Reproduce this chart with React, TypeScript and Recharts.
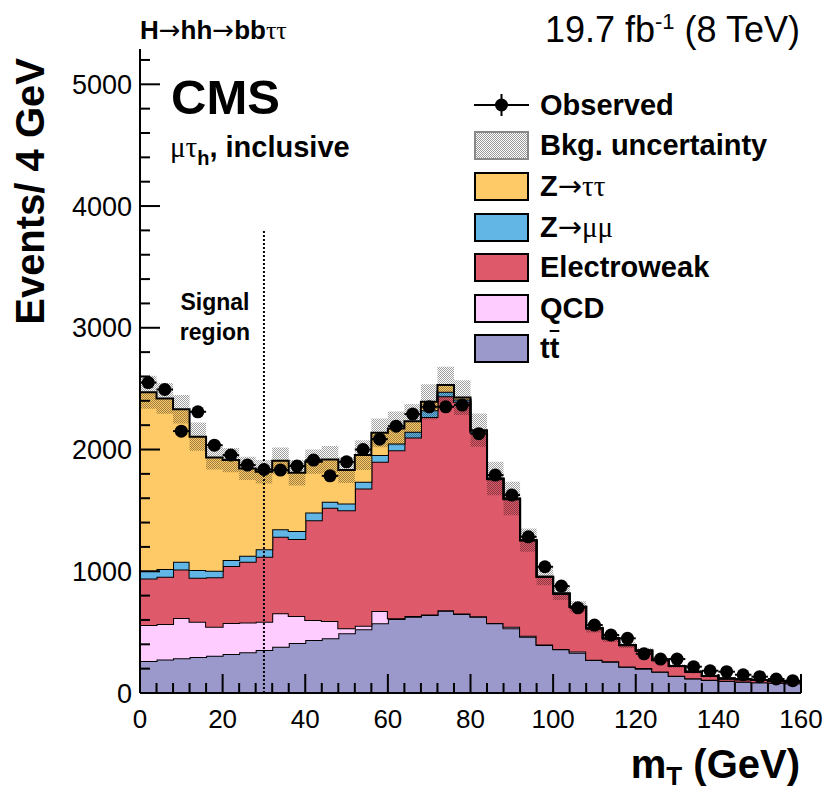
import React from "react";
import { ComposedChart, Area, Scatter, XAxis, YAxis, ErrorBar, ReferenceLine, Legend } from "recharts";

// ---------- data ----------
const binLow = [0, 4, 8, 12, 16, 20, 24, 28, 32, 36, 40, 44, 48, 52, 56, 60, 64, 68, 72, 76,
  80, 84, 88, 92, 96, 100, 104, 108, 112, 116, 120, 124, 128, 132, 136, 140, 144, 148, 152, 156];

const ttbar = [263, 275, 285, 295, 305, 320, 335, 353, 380, 410, 435, 449, 490, 523, 572, 607, 627, 640, 676, 649,
  627, 572, 531, 462, 394, 359, 331, 271, 257, 216, 200, 175, 140, 120, 107, 99, 93, 88, 85, 80];
const qcd = [295, 291, 331, 290, 240, 254, 245, 232, 276, 222, 164, 142, 41, 30, 101, 6, 5, 5, 4, 4,
  3, 3, 14, 8, 4, 3, 9, 3, 3, 2, 5, 1, 1, 1, 1, 1, 1, 1, 1, 1];
const ewk = [383, 389, 399, 362, 405, 469, 498, 534, 627, 632, 821, 931, 971, 1127, 1226, 1382, 1467, 1623, 1758, 1739,
  1510, 1180, 1047, 782, 554, 454, 367, 256, 188, 175, 143, 94, 81, 54, 32, 20, 18, 18, 13, 12];
const zmm = [61, 63, 63, 63, 54, 49, 49, 61, 63, 66, 63, 49, 55, 55, 55, 55, 47, 55, 36, 19,
  10, 5, 4, 3, 2, 1, 1, 1, 1, 1, 1, 1, 0, 0, 0, 0, 0, 0, 0, 0];
const ztt = [1468, 1402, 1252, 1095, 931, 821, 718, 637, 561, 479, 417, 347, 274, 219, 183, 123, 87, 69, 55, 16,
  9, 2, 2, 1, 1, 1, 1, 0, 0, 0, 1, 0, 0, 0, 0, 0, 0, 0, 0, 0];
const bkgUnc = [135, 126, 117, 116, 100, 100, 95, 96, 110, 104, 100, 110, 105, 123, 118, 140, 140, 145, 150, 143,
  137, 137, 137, 96, 70, 55, 45, 35, 30, 25, 22, 18, 15, 12, 10, 9, 8, 7, 6, 6];
const observed = [2550, 2493, 2151, 2310, 2036, 1954, 1872, 1836, 1831, 1864, 1913, 1784, 1899, 2000, 2085, 2192, 2291, 2351, 2351, 2365,
  2130, 1790, 1626, 1283, 1037, 878, 700, 558, 476, 449, 322, 279, 279, 216, 183, 175, 150, 134, 115, 101];

const xTicks = [0, 4, 8, 12, 16, 20, 24, 28, 32, 36, 40, 44, 48, 52, 56, 60, 64, 68, 72, 76, 80,
  84, 88, 92, 96, 100, 104, 108, 112, 116, 120, 124, 128, 132, 136, 140, 144, 148, 152, 156, 160];
const xLabels = [0, 20, 40, 60, 80, 100, 120, 140, 160];
const yTicks = [0, 200, 400, 600, 800, 1000, 1200, 1400, 1600, 1800, 2000, 2200, 2400, 2600, 2800, 3000,
  3200, 3400, 3600, 3800, 4000, 4200, 4400, 4600, 4800, 5000, 5200];
const yLabels = [0, 1000, 2000, 3000, 4000, 5000];

const X_MAX = 160;
const Y_MAX = 5290;
const SIGNAL_CUT = 30;
const SIGNAL_LINE_TOP = 3800;
const HALF_BIN = 2;

const FONT = "'Liberation Sans', Arial, Helvetica, sans-serif";
const SERIF = "'Liberation Serif', 'Times New Roman', serif";
const ARROW = "'DejaVu Sans', sans-serif";
const COL = { ztt: "#FDCA67", zmm: "#62B6E6", ewk: "#DE5A6A", qcd: "#FFCCFF", tt: "#9B98CC" };

const histData = [...binLow, X_MAX].map((x, i) => {
  const j = Math.min(i, binLow.length - 1);
  const total = ttbar[j] + qcd[j] + ewk[j] + zmm[j] + ztt[j];
  return {
    x,
    ttbar: ttbar[j],
    qcd: qcd[j],
    ewk: ewk[j],
    zmm: zmm[j],
    ztt: ztt[j],
    band: [total - bkgUnc[j], total + bkgUnc[j]],
  };
});

const obsData = binLow.map((x, i) => ({ x: x + HALF_BIN, obs: observed[i], xerr: HALF_BIN }));

// ---------- ticks ----------
const BottomTick = (p: any) => {
  const { x, y, payload } = p;
  const major = xLabels.includes(payload.value);
  return (
    <g>
      <line x1={x} x2={x} y1={y} y2={y - (major ? 19 : 10)} stroke="#000" strokeWidth={2} />
      {major && (
        <text x={x} y={y + 35} textAnchor="middle" fontSize={26} fontFamily={FONT} fill="#000">
          {payload.value}
        </text>
      )}
    </g>
  );
};
const TopTick = (p: any) => {
  const { x, y, payload } = p;
  const major = xLabels.includes(payload.value);
  return <line x1={x} x2={x} y1={y} y2={y + (major ? 19 : 10)} stroke="#000" strokeWidth={2} />;
};
const LeftTick = (p: any) => {
  const { x, y, payload } = p;
  const major = yLabels.includes(payload.value);
  return (
    <g>
      <line x1={x} x2={x + (major ? 20 : 10)} y1={y} y2={y} stroke="#000" strokeWidth={2} />
      {major && (
        <text x={x - 8} y={y + 9.5} textAnchor="end" fontSize={27} fontFamily={FONT} fill="#000">
          {payload.value}
        </text>
      )}
    </g>
  );
};
const RightTick = (p: any) => {
  const { x, y, payload } = p;
  const major = yLabels.includes(payload.value);
  return <line x1={x} x2={x - (major ? 20 : 10)} y1={y} y2={y} stroke="#000" strokeWidth={2} />;
};

const ObsDot = (p: any) => <circle cx={p.cx} cy={p.cy} r={6.5} fill="#000" />;

// ---------- legend ----------
const checker = "repeating-conic-gradient(#999 0% 25%, #fff 0% 50%) 0 0 / 2px 2px";
const legendRows = [
  { key: "obs", label: <span>Observed</span> },
  { key: "unc", label: <span>Bkg. uncertainty</span>, bg: checker, border: "#888" },
  { key: "ztt", label: <span>Z<span style={{ fontFamily: ARROW, fontWeight: "normal" }}>→</span><span style={{ fontFamily: SERIF, fontWeight: "normal" }}>ττ</span></span>, bg: COL.ztt, border: "#000" },
  { key: "zmm", label: <span>Z<span style={{ fontFamily: ARROW, fontWeight: "normal" }}>→</span><span style={{ fontFamily: SERIF, fontWeight: "normal" }}>μμ</span></span>, bg: COL.zmm, border: "#000" },
  { key: "ewk", label: <span>Electroweak</span>, bg: COL.ewk, border: "#000" },
  { key: "qcd", label: <span>QCD</span>, bg: COL.qcd, border: "#000" },
  { key: "tt", label: <span>t<span style={{ textDecoration: "overline" }}>t</span></span>, bg: COL.tt, border: "#000" },
];

const renderLegend = () => (
  <div style={{ fontFamily: FONT, fontWeight: "bold", fontSize: 29, color: "#000" }}>
    {legendRows.map((r) => (
      <div key={r.key} style={{ height: 40.6, display: "flex", alignItems: "center" }}>
        {r.key === "obs" ? (
          <svg width={55} height={24} style={{ display: "block" }}>
            <line x1={0} x2={55} y1={12} y2={12} stroke="#000" strokeWidth={2} />
            <line x1={27.5} x2={27.5} y1={1} y2={23} stroke="#000" strokeWidth={2} />
            <circle cx={27.5} cy={12} r={6.5} fill="#000" />
          </svg>
        ) : (
          <div style={{ width: 51, height: 25, background: r.bg, border: `2px solid ${r.border}` }} />
        )}
        <div style={{ marginLeft: 11, lineHeight: 1 }}>{r.label}</div>
      </div>
    ))}
  </div>
);

export default function App() {
  return (
    <div style={{ position: "absolute", left: 0, top: 0, width: 828, height: 792, background: "#fff" }}>
      <ComposedChart width={828} height={792} data={histData} margin={{ top: 49, right: 27, bottom: 59, left: 80 }}>
        <defs>
          <pattern id="hatch" width="2" height="2" patternUnits="userSpaceOnUse">
            <rect x="0" y="0" width="1" height="1" fill="#000" fillOpacity={0.38} />
            <rect x="1" y="1" width="1" height="1" fill="#000" fillOpacity={0.38} />
          </pattern>
        </defs>
        <XAxis
          dataKey="x"
          type="number"
          domain={[0, X_MAX]}
          ticks={xTicks}
          interval={0}
          allowDataOverflow
          height={40}
          tickLine={false}
          tickSize={0}
          tickMargin={0}
          axisLine={{ stroke: "#000", strokeWidth: 2 }}
          tick={<BottomTick />}
        />
        <XAxis
          xAxisId="top"
          orientation="top"
          dataKey="x"
          type="number"
          domain={[0, X_MAX]}
          ticks={xTicks}
          interval={0}
          allowDataOverflow
          height={0}
          tickLine={false}
          tickSize={0}
          tickMargin={0}
          axisLine={{ stroke: "#000", strokeWidth: 2 }}
          tick={<TopTick />}
        />
        <YAxis
          type="number"
          domain={[0, Y_MAX]}
          ticks={yTicks}
          interval={0}
          allowDataOverflow
          width={60}
          tickLine={false}
          tickSize={0}
          tickMargin={0}
          axisLine={{ stroke: "#000", strokeWidth: 2 }}
          tick={<LeftTick />}
        />
        <YAxis
          yAxisId="right"
          orientation="right"
          type="number"
          domain={[0, Y_MAX]}
          ticks={yTicks}
          interval={0}
          allowDataOverflow
          width={0}
          tickLine={false}
          tickSize={0}
          tickMargin={0}
          axisLine={{ stroke: "#000", strokeWidth: 2 }}
          tick={<RightTick />}
        />
        <Area type="stepAfter" dataKey="ttbar" name="tt" stackId="bkg" stroke="#000" strokeWidth={2} fill={COL.tt} fillOpacity={1} dot={false} activeDot={false} isAnimationActive={false} />
        <Area type="stepAfter" dataKey="qcd" name="QCD" stackId="bkg" stroke="#000" strokeWidth={2} fill={COL.qcd} fillOpacity={1} dot={false} activeDot={false} isAnimationActive={false} />
        <Area type="stepAfter" dataKey="ewk" name="Electroweak" stackId="bkg" stroke="#000" strokeWidth={2} fill={COL.ewk} fillOpacity={1} dot={false} activeDot={false} isAnimationActive={false} />
        <Area type="stepAfter" dataKey="zmm" name="Z→μμ" stackId="bkg" stroke="#000" strokeWidth={2} fill={COL.zmm} fillOpacity={1} dot={false} activeDot={false} isAnimationActive={false} />
        <Area type="stepAfter" dataKey="ztt" name="Z→ττ" stackId="bkg" stroke="#000" strokeWidth={2} fill={COL.ztt} fillOpacity={1} dot={false} activeDot={false} isAnimationActive={false} />
        <Area type="stepAfter" dataKey="band" name="Bkg. uncertainty" stroke="none" fill="url(#hatch)" fillOpacity={1} dot={false} activeDot={false} isAnimationActive={false} />
        <ReferenceLine
          segment={[{ x: SIGNAL_CUT, y: 0 }, { x: SIGNAL_CUT, y: SIGNAL_LINE_TOP }]}
          stroke="#000"
          strokeWidth={2}
          strokeDasharray="2 2"
        />
        <Scatter data={obsData} dataKey="obs" name="Observed" fill="#000" shape={<ObsDot />} isAnimationActive={false}>
          <ErrorBar dataKey="xerr" direction="x" width={0} stroke="#000" strokeWidth={2} />
        </Scatter>
        <Legend
          layout="horizontal"
          verticalAlign="middle"
          align="center"
          wrapperStyle={{ position: "absolute", left: 474, top: 85, width: 345, height: 290 }}
          content={renderLegend}
        />
      </ComposedChart>
      <svg width={828} height={792} style={{ position: "absolute", left: 0, top: 0, pointerEvents: "none" }}>
        <text x={140} y={39} fontFamily={FONT} fontSize={26} fill="#000">
          <tspan fontWeight="bold">H</tspan>
          <tspan fontFamily={ARROW}>→</tspan>
          <tspan fontWeight="bold">hh</tspan>
          <tspan fontFamily={ARROW}>→</tspan>
          <tspan fontWeight="bold">bb</tspan>
          <tspan fontFamily={SERIF}>ττ</tspan>
        </text>
        <text x={800} y={42} textAnchor="end" fontFamily={FONT} fontSize={36} fill="#000">
          19.7 fb<tspan fontSize={22} dy={-13}>-1</tspan>
          <tspan dy={13}> (8 TeV)</tspan>
        </text>
        <text x={171} y={114} fontFamily={FONT} fontWeight="bold" fontSize={49} fill="#000">CMS</text>
        <text x={170} y={157} fontFamily={FONT} fontSize={29} fill="#000">
          <tspan fontFamily={SERIF}>μτ</tspan>
          <tspan fontWeight="bold" fontSize={20} dy={8}>h</tspan>
          <tspan fontWeight="bold" dy={-8}>, inclusive</tspan>
        </text>
        <text x={215} y={310} textAnchor="middle" fontFamily={FONT} fontWeight="bold" fontSize={23} fill="#000">Signal</text>
        <text x={215} y={340} textAnchor="middle" fontFamily={FONT} fontWeight="bold" fontSize={23} fill="#000">region</text>
        <text
          x={44}
          y={58}
          textAnchor="end"
          transform="rotate(-90 44 58)"
          fontFamily={FONT}
          fontWeight="bold"
          fontSize={40}
          fill="#000"
        >
          Events/ 4 GeV
        </text>
        <text x={800} y={778} textAnchor="end" fontFamily={FONT} fontWeight="bold" fontSize={40} fill="#000">
          m<tspan fontSize={26} dy={7}>T</tspan>
          <tspan dy={-7}> (GeV)</tspan>
        </text>
      </svg>
    </div>
  );
}
